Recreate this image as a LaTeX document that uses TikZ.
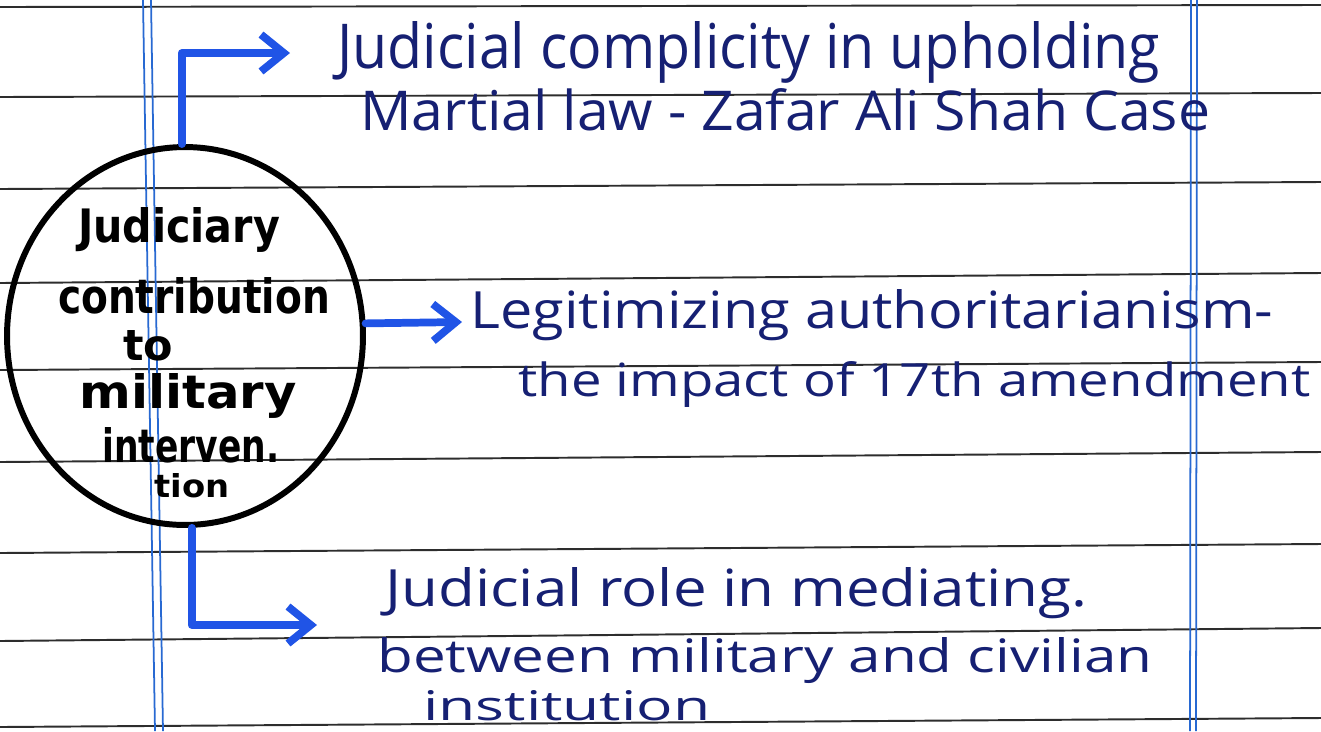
\documentclass[tikz,border=0pt]{standalone}
\usepackage{fontspec}
\usepackage{graphicx}
\usetikzlibrary{shapes.geometric,arrows.meta}
\newfontfamily\handfont{Open Sans}
\newfontfamily\hubfont{DejaVu Sans}
\newcommand{\hw}[3]{\resizebox{#1}{#2}{#3}}
\definecolor{ink}{RGB}{22,32,115}
\definecolor{arrowblue}{RGB}{32,84,230}
\definecolor{margin}{RGB}{40,105,210}
\definecolor{rule}{RGB}{45,45,45}
\tikzset{
  ruled/.style={draw=rule, line width=1.1pt},
  marginline/.style={draw=margin, line width=1.0pt},
  hubnode/.style={ellipse, draw=black, line width=3.4pt, inner sep=0pt,
    minimum width=7.12cm, minimum height=7.56cm},
  hubtext/.style={anchor=base, inner sep=0pt, font=\hubfont\bfseries, text=black},
  handtext/.style={anchor=base west, inner sep=0pt, font=\handfont, text=ink},
  arr/.style={draw=arrowblue, line width=4.4pt, line cap=round, line join=round,
    -{Straight Barb[length=13pt,width=21pt]}}
}
\begin{document}
\begin{tikzpicture}[x=0.02cm, y=-0.02cm]
\useasboundingbox (0,0) rectangle (1321,731);
\fill[white] (0,0) rectangle (1321,731);
% ruled lines
\foreach \yl/\yr in {7/5, 97/93, 189/182, 283/273, 370/362, 462/452, 553/544, 641/628, 727/718}
  \draw[ruled] (0,\yl) -- (1321,\yr);
% margin lines
\draw[marginline] (143,0) -- (155,731);
\draw[marginline] (151,0) -- (163,731);
\draw[marginline] (1191,0) -- (1190,731);
\draw[marginline] (1197,0) -- (1196,731);
% hub
\node[hubnode] (hub) at (185,336) {};
\node[hubtext] (c1) at (179,242) {\hw{4.04cm}{0.70cm}{Judiciary}};
\node[hubtext] (c2) at (194,313) {\hw{5.44cm}{0.72cm}{contribution}};
\node[hubtext] (c3) at (148,360) {\hw{1.00cm}{0.60cm}{to}};
\node[hubtext] (c4) at (188,408) {\hw{4.34cm}{0.70cm}{military}};
\node[hubtext] (c5) at (191,462) {\hw{3.54cm}{0.70cm}{interven.}};
\node[hubtext] (c6) at (192,497) {\hw{1.50cm}{0.48cm}{tion}};
% texts
\node[handtext] (t1a) at (337,68) {\hw{16.46cm}{0.94cm}{Judicial complicity in upholding}};
\node[handtext] (t1b) at (360,130) {\hw{17.00cm}{0.84cm}{Martial law - Zafar Ali Shah Case}};
\node[handtext] (t2a) at (470,328) {\hw{16.06cm}{0.78cm}{Legitimizing authoritarianism-}};
\node[handtext] (t2b) at (518,396) {\hw{15.84cm}{0.70cm}{the impact of 17th amendment}};
\node[handtext] (t3a) at (385,606) {\hw{14.04cm}{0.78cm}{Judicial role in mediating.}};
\node[handtext] (t3b) at (377,672) {\hw{15.50cm}{0.70cm}{between military and civilian}};
\node[handtext] (t3c) at (423,720) {\hw{5.74cm}{0.60cm}{institution}};
% arrow tips
\coordinate (tip1) at (290,53);
\coordinate (tip2) at (462,322);
\coordinate (tip3) at (317,625);
\draw[arr] (hub.91) |- (tip1);
\draw[arr] (hub.4.5) -- (tip2);
\draw[arr] (hub.-88) |- (tip3);
\end{tikzpicture}
\end{document}
